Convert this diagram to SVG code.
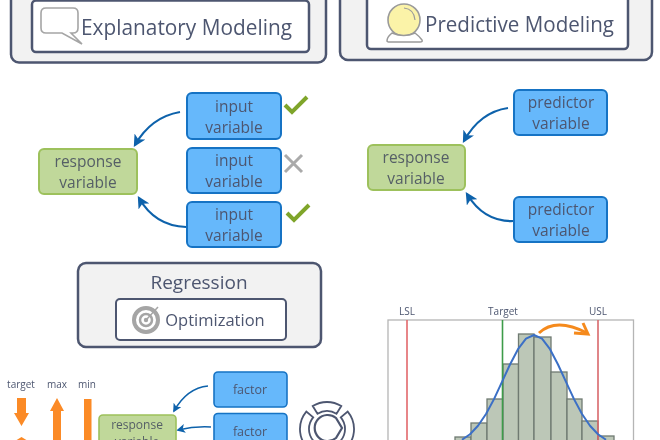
<svg xmlns="http://www.w3.org/2000/svg" width="660" height="440" viewBox="0 0 660 440">
<defs>
<marker id="ah" viewBox="0 0 10 10" refX="8" refY="5" markerWidth="5.5" markerHeight="5.5" orient="auto"><path d="M0 0L10 5L0 10L2.5 5Z" fill="#0f62ab"/></marker>
<filter id="soft" x="-5%" y="-5%" width="110%" height="110%"><feGaussianBlur stdDeviation="0.45"/></filter>
</defs>
<style>
text{font-family:"Open Sans","Noto Sans","Liberation Sans",sans-serif;fill:#4d5670;text-anchor:middle}
.outer{fill:#f2f2f2;stroke:#4d5670;stroke-width:2.5}
.inner{fill:#fff;stroke:#4d5670;stroke-width:2.5}
.blue{fill:#66b8fb;stroke:#1673c4;stroke-width:2}
.green{fill:#c0d89a;stroke:#9dc15c;stroke-width:2}
.lab{font-size:15.5px}
.gl{fill:#555f66}
.conn{fill:none;stroke:#0f62ab;stroke-width:2.2;marker-end:url(#ah)}
.thin{stroke-width:1.6}
.chk{fill:none;stroke:#7fa52c;stroke-width:4}
.bar{fill:#bcc7b7;stroke:#6f7a72;stroke-width:1.3}
.small{font-size:10px}
.fac{font-size:12.5px}
.rs{font-size:12px}
.sw{stroke-width:1.6}
.or{fill:#fb8a26}
</style>
<rect width="660" height="440" fill="#fff"/>
<g filter="url(#soft)">
<g id="explanatory">
<rect class="outer" x="11" y="-20" width="315" height="82.500" rx="8"/>
<rect class="inner" x="32" y="0.500" width="277" height="51.500" rx="4"/>
<path d="M46 8H73Q78 8 78 13V28Q78 33 73 33H71L82 44L62 33H46Q41 33 41 28V13Q41 8 46 8Z" fill="#fff" stroke="#a5a5a5" stroke-width="1.6"/>
<text x="186.500" y="35" font-size="22" textLength="211" lengthAdjust="spacingAndGlyphs">Explanatory Modeling</text>
</g>
<g id="predictive">
<rect class="outer" x="340" y="-20" width="312" height="80" rx="8"/>
<rect class="inner" x="367" y="-8" width="261" height="57" rx="4"/>
<circle cx="404" cy="20" r="16" fill="#fbf3a8" stroke="#9a9a9a" stroke-width="1.6"/>
<path d="M404 8Q414 9 415 20" fill="none" stroke="#9a9a9a" stroke-width="1.2"/>
<path d="M392 33Q387 37 387 41Q387 42 390 42H420Q423 42 422 40Q419 36 415 33Q404 38 392 33Z" fill="#fff" stroke="#9a9a9a" stroke-width="1.500"/>
<text x="519.500" y="32" font-size="22" textLength="189" lengthAdjust="spacingAndGlyphs">Predictive Modeling</text>
</g>
<g id="input1"><rect class="blue" x="187" y="93" width="94" height="46" rx="5"/><text class="lab" x="234" y="112">input</text><text class="lab" x="234" y="133">variable</text></g>
<g id="input2"><rect class="blue" x="187" y="148" width="94" height="45" rx="5"/><text class="lab" x="234" y="166">input</text><text class="lab" x="234" y="187">variable</text></g>
<g id="input3"><rect class="blue" x="187" y="202" width="94" height="45" rx="5"/><text class="lab" x="234" y="220">input</text><text class="lab" x="234" y="241">variable</text></g>
<g id="response1"><rect class="green" x="39" y="149" width="98" height="45" rx="5"/><text class="lab gl" x="88" y="167">response</text><text class="lab gl" x="88" y="188">variable</text></g>
<g id="marks">
<path class="chk" d="M285 105L292 112L307 97"/>
<path d="M285 155L302 172M302 155L285 172" stroke="#aaa" stroke-width="3" fill="none"/>
<path class="chk" d="M287 213L294 220L309 205"/>
</g>
<g id="predictor1"><rect class="blue" x="514" y="90" width="93" height="45" rx="5"/><text class="lab" x="561" y="108">predictor</text><text class="lab" x="561" y="129">variable</text></g>
<g id="predictor2"><rect class="blue" x="514" y="197" width="93" height="45" rx="5"/><text class="lab" x="561" y="215">predictor</text><text class="lab" x="561" y="236">variable</text></g>
<g id="response2"><rect class="green" x="368" y="145" width="97" height="45" rx="5"/><text class="lab gl" x="416" y="163">response</text><text class="lab gl" x="416" y="184">variable</text></g>
<g id="connectors">
<path class="conn" d="M180 112Q151 117 135 145"/>
<path class="conn" d="M186 227Q155 226 139 198"/>
<path class="conn" d="M508 108Q480 112 464 141"/>
<path class="conn" d="M513 221Q484 222 467 194"/>
<path class="conn thin" d="M208 386Q187 388 174 411"/>
<path class="conn thin" d="M211 427Q195 426 178 430"/>
</g>
<g id="regression">
<rect class="outer" x="78" y="263" width="243" height="84" rx="8"/>
<rect class="inner" x="116" y="299" width="170" height="41" rx="4" style="stroke-width:2"/>
<text x="199" y="289" font-size="19">Regression</text>
<circle cx="146" cy="320" r="12" fill="none" stroke="#a5a5a5" stroke-width="4"/>
<circle cx="146" cy="320" r="6" fill="none" stroke="#a5a5a5" stroke-width="2.500"/>
<circle cx="146" cy="320" r="2.200" fill="#a5a5a5"/>
<path d="M147 319L158 307" stroke="#a5a5a5" stroke-width="1.500"/>
<text x="215" y="326" font-size="16.500">Optimization</text>
</g>
<g id="goals">
<text class="small" x="21" y="388">target</text><text class="small" x="57" y="388">max</text><text class="small" x="87" y="388">min</text>
<path class="or" d="M17 398H26V413H29L21.500 426L14 413H17Z"/>
<path class="or" d="M15 441L21.500 437L28 441Z"/>
<path class="or" d="M53 440V411H50L57 398L64 411H61V440Z"/>
<rect class="or" x="84" y="399" width="7.500" height="41"/>
</g>
<g id="factor1"><rect class="blue sw" x="214" y="372" width="73" height="35" rx="4"/><text class="fac" x="250" y="394">factor</text></g>
<g id="factor2"><rect class="blue sw" x="214" y="413.500" width="73" height="35" rx="4"/><text class="fac" x="250" y="436">factor</text></g>
<g id="response3"><rect class="green sw" x="99" y="415" width="77" height="40" rx="4"/><text class="rs gl" x="137" y="429">response</text><text class="rs gl" x="137" y="446">variable</text></g>
<g id="loop" fill="none" stroke="#4d5670" stroke-width="1.800">
<path d="M312.700 406.100A27 27 0 0 1 341.300 406.100L336.500 413.700A18 18 0 0 0 317.500 413.700Z"/>
<path d="M306.300 411.600A27 27 0 0 0 306.300 446.400L313.200 440.600A18 18 0 0 1 313.200 417.400Z"/>
<path d="M347.700 411.600A27 27 0 0 1 347.700 446.400L340.800 440.600A18 18 0 0 0 340.800 417.400Z"/>
<path d="M342 428L336 438A13 13 0 1 1 336 418Z" stroke-width="2.200"/>
</g>
<g id="chart">
<rect x="388" y="320" width="245.500" height="130" fill="#fff" stroke="#b5b5b5" stroke-width="1.300"/>
<text class="small" x="407" y="315">LSL</text><text class="small" x="503" y="315">Target</text><text class="small" x="598" y="315">USL</text>
<rect class="bar" x="455" y="437" width="16" height="10"/>
<rect class="bar" x="471" y="423" width="16" height="24"/>
<rect class="bar" x="487" y="399" width="16" height="48"/>
<rect class="bar" x="503" y="364" width="15.500" height="83"/>
<rect class="bar" x="518.500" y="334" width="15.500" height="113"/>
<rect class="bar" x="534" y="337" width="17" height="110"/>
<rect class="bar" x="551" y="372" width="16" height="75"/>
<rect class="bar" x="567" y="399" width="15" height="48"/>
<rect class="bar" x="582" y="421" width="16" height="26"/>
<rect class="bar" x="598" y="436" width="16" height="11"/>
<path d="M407 320V440" stroke="#e2686b" stroke-width="1.600"/>
<path d="M502.500 320V440" stroke="#3d9c4a" stroke-width="1.600"/>
<path d="M598 320V440" stroke="#d9686b" stroke-width="1.600"/>
<path d="M462 439.800L470 434.200L478 425.800L486 414L494 399.100L502 381.900L510 364.500L518 349.200L526 338.700L534 335L542 338.700L550 349.200L558 364.500L566 381.900L574 399.100L582 414L590 425.800L598 434.200L606 439.800" fill="none" stroke="#3b6fc6" stroke-width="2" stroke-linejoin="round"/>
<path d="M539 333Q556 317 587 333" fill="none" stroke="#f58a1f" stroke-width="3"/>
<path d="M583 323L588 334L574 333" fill="none" stroke="#f58a1f" stroke-width="3"/>
</g>
</g>
</svg>
